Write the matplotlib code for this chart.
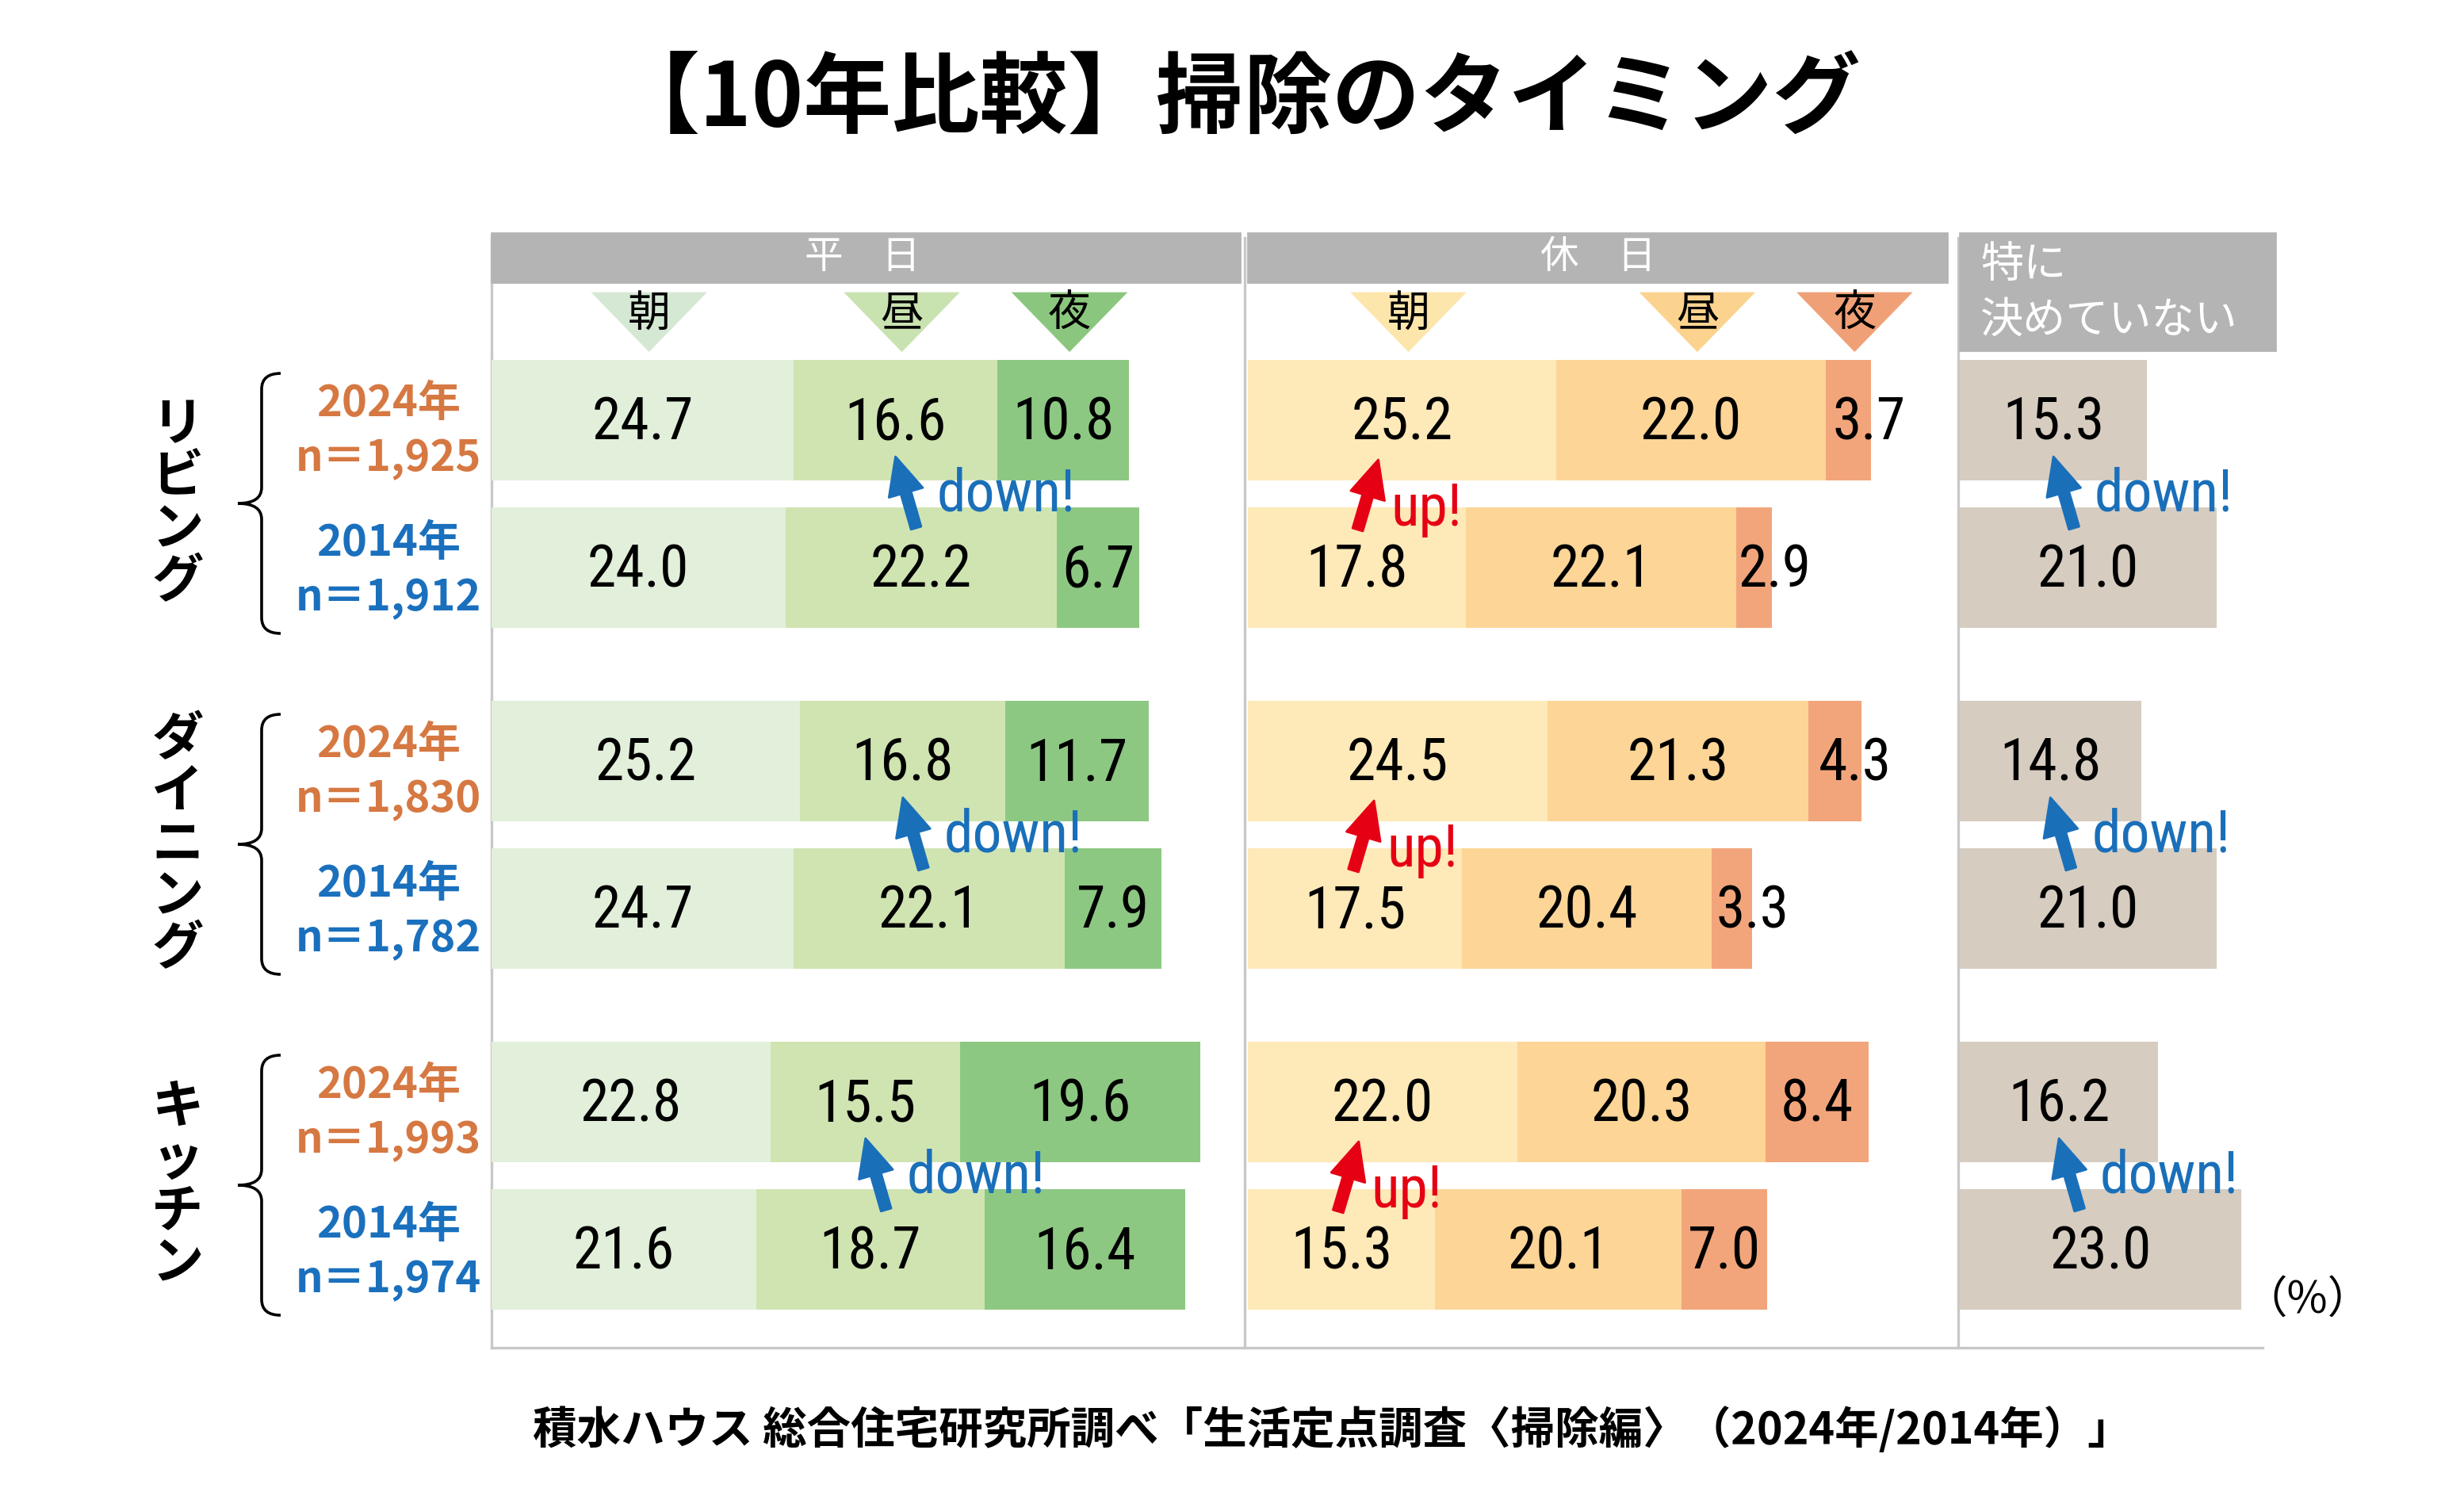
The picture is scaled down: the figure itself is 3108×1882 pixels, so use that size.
import numpy as np
import matplotlib.pyplot as plt
from matplotlib import font_manager
from matplotlib.patches import Rectangle, Polygon, PathPatch
from matplotlib.path import Path

plt.rcParams['font.family'] = ['Noto Sans CJK JP', 'DejaVu Sans']

# pick a narrow latin face for the numbers if one is installed
installed = {f.name for f in font_manager.fontManager.ttflist}
narrow_candidates = ['Liberation Sans Narrow', 'Arial Narrow', 'Roboto Condensed', 'Archivo Narrow',
                     'PT Sans Narrow', 'Fira Sans Condensed', 'IBM Plex Sans Condensed',
                     'Sofia Sans Condensed']
NUM_FONT = [n for n in narrow_candidates if n in installed][:1] + ['DejaVu Sans']

# data (%), order of rooms: living, dining, kitchen
rooms = ['リビング', 'ダイニング', 'キッチン']
years = ['2024年', '2014年']
n_2024 = ['1,925', '1,830', '1,993']
n_2014 = ['1,912', '1,782', '1,974']
slots = ['朝', '昼', '夜']
panel_titles = ['平　日', '休　日']
undecided_title = ['特に', '決めていない']

wd_morning_2024 = [24.7, 25.2, 22.8]
wd_morning_2014 = [24.0, 24.7, 21.6]
wd_noon_2024 = [16.6, 16.8, 15.5]
wd_noon_2014 = [22.2, 22.1, 18.7]
wd_night_2024 = [10.8, 11.7, 19.6]
wd_night_2014 = [6.7, 7.9, 16.4]

hd_morning_2024 = [25.2, 24.5, 22.0]
hd_morning_2014 = [17.8, 17.5, 15.3]
hd_noon_2024 = [22.0, 21.3, 20.3]
hd_noon_2014 = [22.1, 20.4, 20.1]
hd_night_2024 = [3.7, 4.3, 8.4]
hd_night_2014 = [2.9, 3.3, 7.0]

undecided_2024 = [15.3, 14.8, 16.2]
undecided_2014 = [21.0, 21.0, 23.0]

# change markers: (panel index, segment index, direction)
changes = [(0, 1, 'down'), (1, 0, 'up'), (2, 0, 'down')]

# colours
wd_colors = ['#e2efda', '#d0e4b2', '#8dc883']
wd_tri = ['#d5e8d4', '#c8e2b0', '#8bc67e']
hd_colors = ['#fee9b8', '#fcd597', '#f2a57b']
hd_tri = ['#fde6ac', '#fbd38e', '#f0a077']
und_color = '#d6ccc0'
header_gray = '#b4b4b4'
c_2024 = '#d67842'
c_2014 = '#1a70bd'
c_down = '#1a6fb9'
c_up = '#e60013'

# layout (in half-size pixel units of the 1554 x 941 canvas)
W, H = 1554, 941
X0 = 310          # x of 0 % in the first panel
S = 7.72          # px per %
panel_x = [310, 787, 1236]
group_top = [227, 442, 657]
BAR_H = 76
ROW_STEP = 93

panels = [
    ([[wd_morning_2024, wd_noon_2024, wd_night_2024],
      [wd_morning_2014, wd_noon_2014, wd_night_2014]], wd_colors),
    ([[hd_morning_2024, hd_noon_2024, hd_night_2024],
      [hd_morning_2014, hd_noon_2014, hd_night_2014]], hd_colors),
    ([[undecided_2024], [undecided_2014]], [und_color]),
]


def px(x):
    return (x - X0) / S


fig = plt.figure(figsize=(W * 2 / 200, H * 2 / 200), dpi=200)
ax = fig.add_axes([0, 0, 1, 1])
ax.set_xlim(px(0), px(W))
ax.set_ylim(H, 0)
ax.axis('off')

# title and footer
ax.text(px(780), 64, '【10年比較】掃除のタイミング', ha='center', va='center',
        fontsize=40, fontweight='bold')
ax.text(px(840), 902, '積水ハウス 総合住宅研究所調べ「生活定点調査〈掃除編〉（2024年/2014年）」',
        ha='center', va='center', fontsize=20, fontweight='bold')
ax.text(px(1455), 820, '（%）', ha='center', va='center', fontsize=20)

# frame lines
line_kw = dict(color='#c8c8c8', lw=1.2, zorder=1)
for lx in [310, 785, 1235]:
    ax.plot([px(lx), px(lx)], [150, 850], **line_kw)
ax.plot([px(310), px(1427)], [850, 850], **line_kw)

# header bands
ax.add_patch(Rectangle((px(310), 147), px(782) - px(310), 31, color=header_gray, zorder=2))
ax.add_patch(Rectangle((px(787), 147), px(1228) - px(787), 31, color=header_gray, zorder=2))
ax.add_patch(Rectangle((px(1236), 147), px(1435) - px(1236), 74, color=header_gray, zorder=2))
ax.text(px(544), 162, panel_titles[0], ha='center', va='center', fontsize=17.5,
        color='white', zorder=3)
ax.text(px(1008), 162, panel_titles[1], ha='center', va='center', fontsize=17.5,
        color='white', zorder=3)
ax.text(px(1249), 167, undecided_title[0], ha='left', va='center', fontsize=19.5,
        color='white', zorder=3)
ax.text(px(1249), 202, undecided_title[1], ha='left', va='center', fontsize=19.5,
        color='white', zorder=3)

# bars
for p, (series, colors) in enumerate(panels):
    off = px(panel_x[p])
    for yi in range(2):
        y = np.array(group_top) + BAR_H / 2 + ROW_STEP * yi
        left = np.full(len(rooms), off)
        for k, vals in enumerate(series[yi]):
            vals = np.array(vals)
            ax.barh(y, vals, left=left, height=BAR_H, color=colors[k], zorder=2)
            for xl, v, yy in zip(left, vals, y):
                shift = 13 / S if v < 5 else 0
                ax.text(xl + v / 2 + shift, yy + 2, f'{v:.1f}', ha='center', va='center',
                        fontsize=26.5, family=NUM_FONT, zorder=4)
            left = left + vals

# slot triangles (placed over the first row's segments)
for p, tri_colors in [(0, wd_tri), (1, hd_tri)]:
    off = px(panel_x[p])
    start = 0.0
    for k, vals in enumerate(panels[p][0][0]):
        cx = off + start + vals[0] / 2 + 4 / S
        start += vals[0]
        hw = 35 / S
        ax.add_patch(Polygon([(cx - hw, 185), (cx + hw, 185), (cx, 221)], closed=True,
                             color=tri_colors[k], zorder=2))
        ax.text(cx, 198, slots[k], ha='center', va='center', fontsize=19.5, zorder=3)

# change arrows
for r in range(len(rooms)):
    bottom = group_top[r] + BAR_H
    for p, k, kind in changes:
        seg = [v[r] for v in panels[p][0][0]]
        center = px(panel_x[p]) + sum(seg[:k]) + seg[k] / 2
        if kind == 'down':
            tip = (center, bottom - 15)
            tail = (center + 13 / S, bottom + 30)
            col, label = c_down, 'down!'
            tx, ty = center + 26 / S, bottom + 9
        else:
            tip = (center - 15 / S, bottom - 13)
            tail = (tip[0] - 13 / S, bottom + 31)
            col, label = c_up, 'up!'
            tx, ty = tip[0] + 8 / S, bottom + 18
        ax.annotate('', xy=tip, xytext=tail, zorder=5,
                    arrowprops=dict(arrowstyle='simple,head_length=0.85,head_width=0.8,tail_width=0.24',
                                    color=col, shrinkA=0, shrinkB=0, mutation_scale=20))
        ax.text(tx, ty, label, ha='left', va='center', fontsize=26.5,
                color=col, family=NUM_FONT, zorder=5)

# left labels: room names, braces, years
for r, room in enumerate(rooms):
    gc = group_top[r] + (BAR_H + ROW_STEP) / 2 + 6
    step = 33
    n = len(room)
    for i, ch in enumerate(room):
        ax.text(px(112), gc + (i - (n - 1) / 2) * step, ch, ha='center', va='center',
                fontsize=23.5, fontweight='bold')
    top, mid, bot = gc - 82, gc, gc + 82
    verts = [(177, top), (165, top), (165, top + 10), (165, mid - 10), (165, mid), (150, mid),
             (165, mid), (165, mid + 10), (165, bot - 10), (165, bot), (177, bot)]
    codes = [Path.MOVETO, Path.CURVE3, Path.CURVE3, Path.LINETO, Path.CURVE3, Path.CURVE3,
             Path.CURVE3, Path.CURVE3, Path.LINETO, Path.CURVE3, Path.CURVE3]
    verts = [(px(x), y) for x, y in verts]
    ax.add_patch(PathPatch(Path(verts, codes), fill=False, lw=1.3, color='black'))
    bc = gc - 2
    ax.text(px(245), bc - 61, years[0], ha='center', va='center', fontsize=19.5,
            fontweight='bold', color=c_2024)
    ax.text(px(245), bc - 26, 'n＝' + n_2024[r], ha='center', va='center', fontsize=19.5,
            fontweight='bold', color=c_2024)
    ax.text(px(245), bc + 27, years[1], ha='center', va='center', fontsize=19.5,
            fontweight='bold', color=c_2014)
    ax.text(px(245), bc + 62, 'n＝' + n_2014[r], ha='center', va='center', fontsize=19.5,
            fontweight='bold', color=c_2014)

fig.savefig('out.png', dpi=200)
